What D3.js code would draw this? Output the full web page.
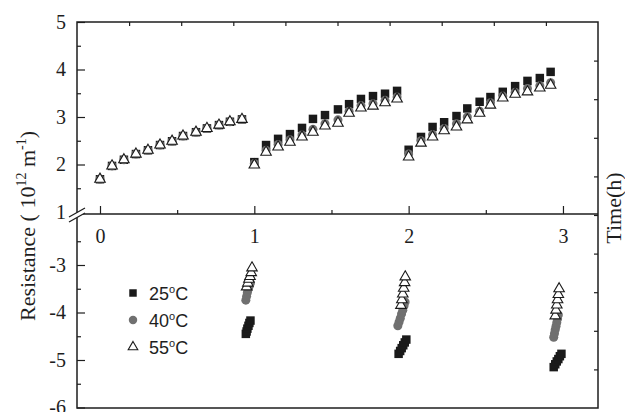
<!DOCTYPE html>
<html>
<head>
<meta charset="utf-8">
<script src="https://cdn.jsdelivr.net/npm/d3@7"></script>
<style>
  body { margin: 0; background: #fff; }
  svg { display: block; }
</style>
</head>
<body>
<div id="chart"></div>
<script>
// upper panel: resistance vs time (3 runs)
let timeHours = [0, 0.078, 0.155, 0.233, 0.311, 0.389, 0.467, 0.538, 0.622, 0.693, 0.771, 0.842, 0.920,
    1.0, 1.076, 1.154, 1.231, 1.309, 1.380, 1.458, 1.542, 1.614, 1.691, 1.769, 1.847, 1.925,
    2.0, 2.08, 2.155, 2.23, 2.31, 2.38, 2.46, 2.53, 2.61, 2.69, 2.77, 2.85, 2.92];

let res25 = [1.69, 1.97, 2.10, 2.22, 2.30, 2.41, 2.49, 2.60, 2.68, 2.76, 2.83, 2.90, 2.95,
    2.05, 2.41, 2.54, 2.64, 2.77, 2.96, 3.04, 3.16, 3.27, 3.38, 3.44, 3.49, 3.55,
    2.31, 2.58, 2.79, 2.89, 3.02, 3.18, 3.32, 3.42, 3.53, 3.65, 3.76, 3.82, 3.95];
let res40 = [1.69, 1.97, 2.10, 2.22, 2.30, 2.41, 2.49, 2.60, 2.68, 2.76, 2.83, 2.90, 2.95,
    2.02, 2.30, 2.42, 2.52, 2.62, 2.74, 2.86, 2.94, 3.12, 3.24, 3.28, 3.35, 3.42,
    2.22, 2.50, 2.63, 2.76, 2.86, 3.00, 3.12, 3.30, 3.44, 3.52, 3.60, 3.66, 3.72];
let res55 = [1.69, 1.97, 2.10, 2.22, 2.30, 2.41, 2.49, 2.60, 2.68, 2.76, 2.83, 2.90, 2.95,
    1.99, 2.26, 2.37, 2.47, 2.58, 2.68, 2.81, 2.87, 3.08, 3.19, 3.23, 3.30, 3.38,
    2.16, 2.45, 2.58, 2.71, 2.79, 2.94, 3.08, 3.25, 3.40, 3.48, 3.53, 3.61, 3.67];

// lower panel clusters
let lowTime25 = [0.945, 0.950, 0.955, 0.962, 0.968, 0.975, 1.935, 1.945, 1.955, 1.965, 1.975, 1.985, 2.940, 2.950, 2.960, 2.970, 2.980, 2.990];
let lowVal25 = [-4.45, -4.40, -4.34, -4.28, -4.22, -4.17, -4.87, -4.81, -4.75, -4.69, -4.63, -4.57, -5.15, -5.09, -5.03, -4.98, -4.92, -4.87];
let lowTime40 = [0.945, 0.950, 0.955, 0.962, 0.968, 0.975, 1.930, 1.938, 1.946, 1.954, 1.962, 1.970, 1.977, 2.940, 2.945, 2.950, 2.955, 2.960, 2.965, 2.970];
let lowVal40 = [-3.74, -3.66, -3.58, -3.50, -3.44, -3.38, -4.28, -4.20, -4.12, -4.03, -3.95, -3.86, -3.78, -4.52, -4.44, -4.36, -4.29, -4.21, -4.13, -4.05];
let lowTime55 = [0.950, 0.958, 0.965, 0.972, 0.980, 0.985, 1.950, 1.956, 1.962, 1.968, 1.974, 1.978, 2.950, 2.955, 2.960, 2.965, 2.970, 2.975];
let lowVal55 = [-3.46, -3.38, -3.30, -3.24, -3.16, -3.06, -3.85, -3.73, -3.61, -3.49, -3.37, -3.25, -4.07, -3.95, -3.84, -3.73, -3.62, -3.50];

let seriesNames = ["25", "40", "55"];
let xTicks = [0, 1, 2, 3];
let upperTicks = [1, 2, 3, 4, 5];
let lowerTicks = [-3, -4, -5, -6];

let svgWidth = 625;
let svgHeight = 412;
let frameL = 77, frameR = 598, frameT = 22, frameB = 408, axisY = 214;

let ink = "#1e1e1e";
let serif = "'Liberation Serif', 'Times New Roman', serif";
let sans = "'Liberation Sans', Arial, sans-serif";

let svg = d3.select("#chart").append("svg")
    .attr("width", svgWidth)
    .attr("height", svgHeight);

let x = d3.scaleLinear().domain([-0.149, 3.227]).range([frameL, frameR]);
let yTop = d3.scaleLinear().domain([1, 5]).range([212, frameT]);
let yLow = d3.scaleLinear().domain([-6, -3]).range([407.5, 265]);

function styleAxis(g, labels) {
    g.select(".domain").remove();
    g.selectAll("line").attr("stroke", ink).attr("stroke-width", 1.2);
    g.selectAll("text")
        .attr("fill", ink)
        .style("font-family", serif)
        .style("font-size", "20px");
    if (!labels) g.selectAll("text").remove();
}

// x axis in the middle
svg.append("g")
    .attr("transform", `translate(0,${axisY})`)
    .call(d3.axisBottom(x).tickValues(xTicks).tickSizeInner(-8).tickSizeOuter(0).tickPadding(15).tickFormat(d => d))
    .call(g => styleAxis(g, true));
svg.append("g")
    .attr("transform", `translate(0,${axisY})`)
    .call(d3.axisBottom(x).tickValues([0.5, 1.5, 2.5]).tickSizeInner(-4).tickSizeOuter(0))
    .call(g => styleAxis(g, false));

// left axis, upper and lower parts
svg.append("g")
    .attr("transform", `translate(${frameL},0)`)
    .call(d3.axisLeft(yTop).tickValues(upperTicks).tickSizeInner(-8).tickSizeOuter(0).tickPadding(11).tickFormat(d => d))
    .call(g => styleAxis(g, true));
svg.append("g")
    .attr("transform", `translate(${frameL},0)`)
    .call(d3.axisLeft(yTop).tickValues([1.5, 2.5, 3.5, 4.5]).tickSizeInner(-4).tickSizeOuter(0))
    .call(g => styleAxis(g, false));
svg.append("g")
    .attr("transform", `translate(${frameL},0)`)
    .call(d3.axisLeft(yLow).tickValues(lowerTicks).tickSizeInner(-8).tickSizeOuter(0).tickPadding(11).tickFormat(d => String(d)))
    .call(g => styleAxis(g, true));
svg.append("g")
    .attr("transform", `translate(${frameL},0)`)
    .call(d3.axisLeft(yLow).tickValues([-2.5, -3.5, -4.5, -5.5]).tickSizeInner(-4).tickSizeOuter(0))
    .call(g => styleAxis(g, false));

// top and right ticks (no labels)
let xTop = d3.scaleLinear().domain([0, 10]).range([frameL, frameR]);
svg.append("g")
    .attr("transform", `translate(0,${frameT})`)
    .call(d3.axisTop(xTop).tickValues(d3.range(1, 10)).tickSizeInner(-4).tickSizeOuter(0))
    .call(g => styleAxis(g, false));
let yRight = d3.scaleLinear().domain([0, 10]).range([frameT, frameB]);
svg.append("g")
    .attr("transform", `translate(${frameR},0)`)
    .call(d3.axisRight(yRight).tickValues(d3.range(1, 10)).tickSizeInner(-4).tickSizeOuter(0))
    .call(g => styleAxis(g, false));

// frame
svg.append("rect")
    .attr("x", frameL).attr("y", frameT)
    .attr("width", frameR - frameL).attr("height", frameB - frameT)
    .attr("fill", "none").attr("stroke", ink).attr("stroke-width", 1.5);
svg.append("line")
    .attr("x1", frameL).attr("x2", frameR)
    .attr("y1", axisY).attr("y2", axisY)
    .attr("stroke", ink).attr("stroke-width", 1.5);

// axis break mark
svg.append("path")
    .attr("d", "M69,217 L85,208 L85,213 L69,222 Z")
    .attr("fill", "#fff");
svg.append("path")
    .attr("d", "M69,217 L85,208 M69,222 L85,213")
    .attr("stroke", ink).attr("stroke-width", 1.3).attr("fill", "none");

// markers
let squareSym = d3.symbol().type(d3.symbolSquare).size(72);
let circleSym = d3.symbol().type(d3.symbolCircle).size(64);
let triSym = d3.symbol().type(d3.symbolTriangle).size(48);

function drawSeries(times, vals, yScale, kind) {
    let pts = times.map((t, i) => ({t: t, v: vals[i]}));
    let g = svg.append("g");
    let sym = kind === "sq" ? squareSym : kind === "ci" ? circleSym : triSym;
    g.selectAll("path")
        .data(pts)
        .enter()
        .append("path")
        .attr("transform", d => `translate(${x(d.t)},${yScale(d.v)})`)
        .attr("d", sym)
        .attr("fill", kind === "sq" ? "#1a1a1a" : kind === "ci" ? "#707070" : "#fff")
        .attr("stroke", kind === "tr" ? "#1a1a1a" : "none")
        .attr("stroke-width", 1.1);
}

drawSeries(timeHours, res25, yTop, "sq");
drawSeries(timeHours, res40, yTop, "ci");
drawSeries(timeHours, res55, yTop, "tr");
drawSeries(lowTime25, lowVal25, yLow, "sq");
drawSeries(lowTime40, lowVal40, yLow, "ci");
drawSeries(lowTime55, lowVal55, yLow, "tr");

// legend
let legend = svg.append("g");
let kinds = ["sq", "ci", "tr"];
seriesNames.forEach(function(name, i) {
    let cy = 293 + i * 27;
    let sym = kinds[i] === "sq" ? d3.symbol().type(d3.symbolSquare).size(56)
        : kinds[i] === "ci" ? d3.symbol().type(d3.symbolCircle).size(56)
        : d3.symbol().type(d3.symbolTriangle).size(40);
    legend.append("path")
        .attr("transform", `translate(133,${cy})`)
        .attr("d", sym)
        .attr("fill", kinds[i] === "sq" ? "#1a1a1a" : kinds[i] === "ci" ? "#707070" : "#fff")
        .attr("stroke", kinds[i] === "tr" ? "#1a1a1a" : "none")
        .attr("stroke-width", 1.1);
    let t = legend.append("text")
        .attr("x", 149)
        .attr("y", cy + 7)
        .attr("fill", ink)
        .style("font-family", sans)
        .style("font-size", "18px");
    t.append("tspan").text(name);
    t.append("tspan").attr("dy", -7).style("font-size", "11px").text("o");
    t.append("tspan").attr("dy", 7).text("C");
});

// y title
let yTitle = svg.append("text")
    .attr("transform", "translate(35,226) rotate(-90)")
    .attr("text-anchor", "middle")
    .attr("fill", ink)
    .style("font-family", serif)
    .style("font-size", "22px");
yTitle.append("tspan").text("Resistance ( 10");
yTitle.append("tspan").attr("dy", -9).style("font-size", "14px").text("12");
yTitle.append("tspan").attr("dy", 9).text(" m");
yTitle.append("tspan").attr("dy", -9).style("font-size", "14px").text("-1");
yTitle.append("tspan").attr("dy", 9).text(")");

// right title
svg.append("text")
    .attr("transform", "translate(621,208) rotate(-90)")
    .attr("text-anchor", "middle")
    .attr("fill", ink)
    .style("font-family", serif)
    .style("font-size", "22px")
    .text("Time(h)");
</script>
</body>
</html>
